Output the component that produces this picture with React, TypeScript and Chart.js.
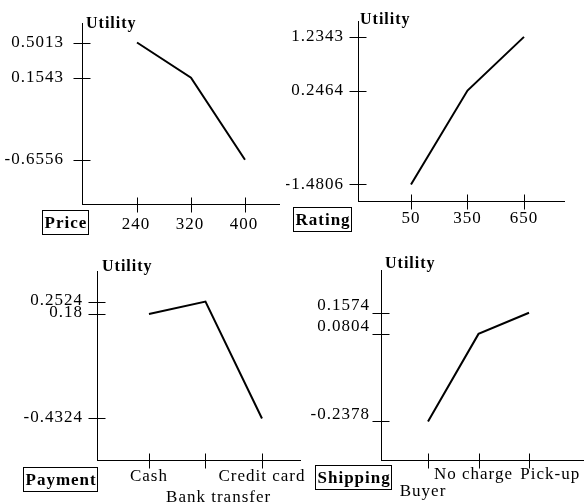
import { useEffect, useRef } from "react";
import { Chart, registerables } from "chart.js";

Chart.register(...registerables);

// ---- data ----
const axisTitle = "Utility";

const priceLevels = ["240", "320", "400"];
const priceUtility = [0.5013, 0.1543, -0.6556];

const ratingLevels = ["50", "350", "650"];
const ratingUtility = [-1.4806, 0.2464, 1.2343];

const paymentLevels = ["Cash", "Bank transfer", "Credit card"];
const paymentUtility = [0.18, 0.2524, -0.4324];

const shippingLevels = ["Buyer", "No charge", "Pick-up"];
const shippingUtility = [-0.2378, 0.0804, 0.1574];

const INK = "#000";
const FAMILY = '"Liberation Serif", "Times New Roman", serif';

type Panel = {
  attribute: string;
  levels: string[];
  utility: number[];
  canvas: [number, number, number, number];
  axis: [number, number, number, number]; // axis x, axis top, axis right, axis y
  xRange: [number, number];
  yRange: [number, number];
  yPad: number;
  xPad: number;
  lineHeight: number;
  yLabelShift: number;
  xLabelShift: number;
  rows: number[];
  indent: number[];
  titleAt: [number, number];
  boxAt: [number, number];
};

const panels: Panel[] = [
  {
    attribute: "Price",
    levels: priceLevels,
    utility: priceUtility,
    canvas: [0, 0, 292, 250],
    axis: [82, 23, 279, 204],
    xRange: [-1.0185, 2.63],
    yRange: [-1.0916, 0.6937],
    yPad: 18,
    xPad: 10,
    lineHeight: 1.2,
    yLabelShift: 0,
    xLabelShift: -1,
    rows: [0, 0, 0],
    indent: [0, 0, 0],
    titleAt: [4, 5],
    boxAt: [-40, 6],
  },
  {
    attribute: "Rating",
    levels: ratingLevels,
    utility: ratingUtility,
    canvas: [286, 0, 298, 250],
    axis: [358, 21, 564, 201],
    xRange: [-0.938, 2.708],
    yRange: [-1.7841, 1.5266],
    yPad: 14,
    xPad: 7,
    lineHeight: 1.2,
    yLabelShift: 0,
    xLabelShift: 0,
    rows: [0, 0, 0],
    indent: [0, 0, 0],
    titleAt: [2, 3],
    boxAt: [-65, 6],
  },
  {
    attribute: "Payment",
    levels: paymentLevels,
    utility: paymentUtility,
    canvas: [0, 250, 320, 252],
    axis: [97, 271, 300, 460],
    xRange: [-0.92, 2.673],
    yRange: [-0.676, 0.4318],
    yPad: 14,
    xPad: 7,
    lineHeight: 1.18,
    yLabelShift: -1,
    xLabelShift: 0,
    rows: [0, 1, 0],
    indent: [0, 5, 0],
    titleAt: [5, 0],
    boxAt: [-74, 7],
  },
  {
    attribute: "Shipping",
    levels: shippingLevels,
    utility: shippingUtility,
    canvas: [300, 250, 284, 252],
    axis: [381, 270, 583, 460],
    xRange: [-0.931, 3.069],
    yRange: [-0.3782, 0.3127],
    yPad: 11,
    xPad: 6,
    lineHeight: 1.0,
    yLabelShift: -7,
    xLabelShift: -5,
    rows: [1, 0, 0],
    indent: [0, 0, 10],
    titleAt: [4, -2],
    boxAt: [-66, 5],
  },
];

const sketchPlugin = {
  id: "sketch",
  beforeDraw(chart: any) {
    chart.ctx.letterSpacing = "1px";
  },
  afterDraw(chart: any, _args: any, opts: any) {
    const { ctx, chartArea: ca, scales } = chart;
    const xs = scales.x;
    const ys = scales.y;
    ctx.save();
    ctx.letterSpacing = "1px";
    ctx.strokeStyle = INK;
    ctx.lineWidth = 1;
    const ax = Math.round(ca.left) + 0.5;
    const ay = Math.round(ca.bottom) + 0.5;
    ctx.beginPath();
    ys.ticks.forEach((t: any) => {
      const py = Math.round(ys.getPixelForValue(t.value)) + 0.5;
      ctx.moveTo(ax - 9, py);
      ctx.lineTo(ax + 8, py);
    });
    xs.ticks.forEach((t: any) => {
      const px = Math.round(xs.getPixelForValue(t.value)) + 0.5;
      ctx.moveTo(px, ay - 7);
      ctx.lineTo(px, ay + 8);
    });
    ctx.stroke();

    ctx.fillStyle = INK;
    ctx.textAlign = "left";
    ctx.textBaseline = "alphabetic";
    ctx.font = `bold 16px ${FAMILY}`;
    ctx.fillText(opts.title, ca.left + opts.titleAt[0], ca.top + opts.titleAt[1]);

    ctx.font = `bold 17px ${FAMILY}`;
    const w = ctx.measureText(opts.attribute).width;
    const bx = Math.round(ca.left + opts.boxAt[0]) + 0.5;
    const by = Math.round(ca.bottom + opts.boxAt[1]) + 0.5;
    ctx.strokeRect(bx, by, Math.round(w + 3), 24);
    ctx.textBaseline = "middle";
    ctx.fillText(opts.attribute, bx + 2, by + 13);
    ctx.restore();
  },
};

function PanelChart({ p }: { p: Panel }) {
  const ref = useRef<HTMLCanvasElement>(null);
  useEffect(() => {
    const [cl, ct, cw, ch] = p.canvas;
    const [ax, atop, aright, ay] = p.axis;
    const yWidth = ax - cl;
    const xHeight = ct + ch - ay;
    const padTop = atop - ct;
    const padRight = cl + cw - aright;
    const yTicks = [...p.utility].sort((a, b) => a - b);

    const chart = new Chart(ref.current!, {
      type: "line",
      data: {
        datasets: [
          {
            data: p.utility.map((v, i) => ({ x: i, y: v })),
            borderColor: INK,
            borderWidth: 2,
            pointRadius: 0,
            tension: 0,
            fill: false,
          },
        ],
      },
      options: {
        animation: false,
        responsive: false,
        devicePixelRatio: 1,
        events: [],
        layout: { padding: { top: padTop, right: padRight, left: 0, bottom: 0 } },
        plugins: {
          legend: { display: false },
          tooltip: { enabled: false },
          sketch: {
            title: axisTitle,
            attribute: p.attribute,
            titleAt: p.titleAt,
            boxAt: p.boxAt,
          },
        } as any,
        scales: {
          x: {
            type: "linear",
            min: p.xRange[0],
            max: p.xRange[1],
            grid: { display: false, drawTicks: false },
            border: { display: true, color: INK, width: 1 },
            afterBuildTicks: (s: any) => {
              s.ticks = p.levels.map((_, i) => ({ value: i }));
            },
            afterFit: (s: any) => {
              s.height = xHeight;
              s.paddingLeft = 0;
              s.paddingRight = 0;
            },
            ticks: {
              autoSkip: false,
              maxRotation: 0,
              minRotation: 0,
              padding: p.xPad,
              labelOffset: p.xLabelShift,
              color: INK,
              font: { family: FAMILY, size: 17, lineHeight: p.lineHeight },
              callback: (_v: any, i: number) => {
                const text = " ".repeat(p.indent[i]) + p.levels[i];
                return p.rows[i] ? ["", text] : text;
              },
            },
          },
          y: {
            type: "linear",
            min: p.yRange[0],
            max: p.yRange[1],
            grid: { display: false, drawTicks: false },
            border: { display: true, color: INK, width: 1 },
            afterBuildTicks: (s: any) => {
              s.ticks = yTicks.map((v) => ({ value: v }));
            },
            afterFit: (s: any) => {
              s.width = yWidth;
              s.paddingTop = 0;
              s.paddingBottom = 0;
            },
            ticks: {
              padding: p.yPad,
              labelOffset: p.yLabelShift,
              color: INK,
              font: { family: FAMILY, size: 17 },
              callback: (v: any) => String(v),
            },
          },
        },
      },
      plugins: [sketchPlugin as any],
    });
    return () => chart.destroy();
  }, [p]);

  const [cl, ct, cw, ch] = p.canvas;
  return (
    <canvas
      ref={ref}
      width={cw}
      height={ch}
      style={{ position: "absolute", left: cl, top: ct, width: cw, height: ch }}
    />
  );
}

export default function App() {
  return (
    <div
      style={{
        position: "fixed",
        left: 0,
        top: 0,
        width: 584,
        height: 502,
        background: "#fff",
        overflow: "hidden",
      }}
    >
      {panels.map((p) => (
        <PanelChart key={p.attribute} p={p} />
      ))}
    </div>
  );
}
